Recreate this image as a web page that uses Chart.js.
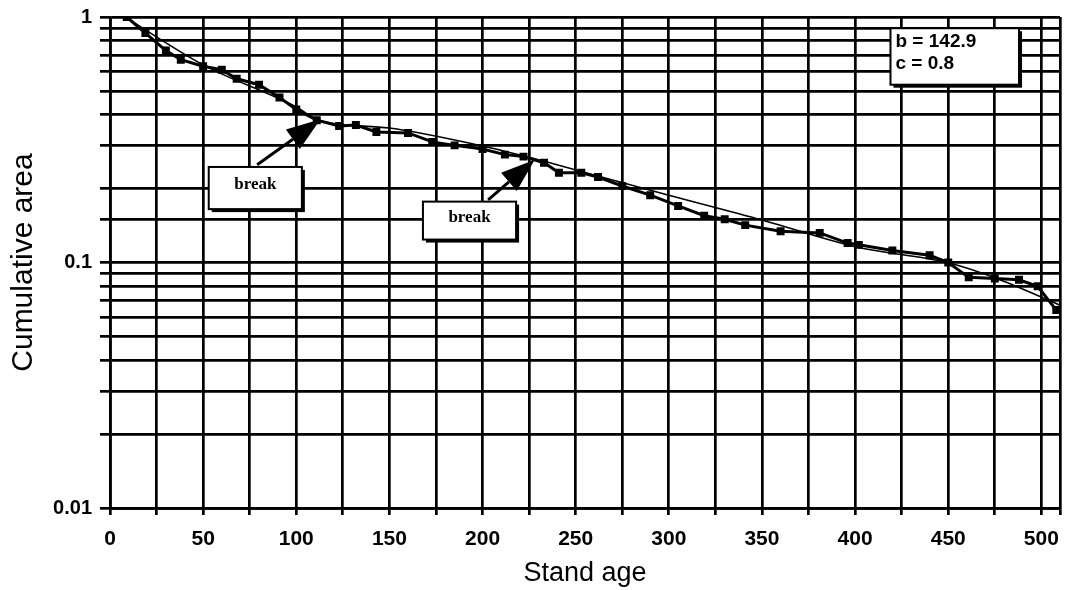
<!DOCTYPE html>
<html>
<head>
<meta charset="utf-8">
<script src="https://cdn.jsdelivr.net/npm/chart.js@4/dist/chart.umd.min.js"></script>
<style>
  body { margin: 0; background: #fff; }
  #wrap { width: 1067px; height: 590px; }
</style>
</head>
<body>
<div id="wrap"><canvas id="chart1" width="1067" height="590"></canvas></div>
<script>
// observed cumulative area by stand age (square markers)
const obsAge  = [9, 19, 30, 38, 50, 60, 68, 80, 91, 100, 111, 123, 132, 143, 160, 173, 185, 200, 212, 222, 233, 241, 253, 262, 275, 290, 305, 319, 330, 341, 360, 381, 396, 402, 420, 440, 450, 461, 475, 488, 498, 508];
const obsArea = [1.0, 0.86, 0.73, 0.67, 0.63, 0.61, 0.56, 0.53, 0.47, 0.42, 0.38, 0.36, 0.363, 0.34, 0.337, 0.31, 0.30, 0.29, 0.275, 0.27, 0.255, 0.232, 0.232, 0.223, 0.205, 0.188, 0.17, 0.155, 0.15, 0.142, 0.134, 0.132, 0.12, 0.118, 0.112, 0.107, 0.10, 0.087, 0.086, 0.085, 0.08, 0.064];

// fitted curve
const fitAge  = [8, 50, 100, 112, 150, 200, 230, 250, 300, 350, 400, 450, 475, 510];
const fitArea = [1.0, 0.638, 0.43, 0.38, 0.353, 0.298, 0.262, 0.238, 0.188, 0.149, 0.116, 0.0997, 0.0866, 0.067];

const xTicks = [0, 25, 50, 75, 100, 125, 150, 175, 200, 225, 250, 275, 300, 325, 350, 375, 400, 425, 450, 475, 500, 510];
const yLabels = [0.01, 0.1, 1];

const breakNotes = [
  { text: 'break', x0: 53, x1: 103, y0: 0.245, y1: 0.165, fromX: 79, fromY: 0.25, tipX: 113, tipY: 0.383 },
  { text: 'break', x0: 168, x1: 218, y0: 0.177, y1: 0.124, fromX: 203, fromY: 0.18, tipX: 228, tipY: 0.262 }
];
const paramLines = ['b = 142.9', 'c = 0.8'];

const toPts = (xs, ys) => xs.map((x, i) => ({ x: x, y: ys[i] }));

const notesPlugin = {
  id: 'notes',
  afterDatasetsDraw(chart) {
    const c = chart.ctx, xs = chart.scales.x, ys = chart.scales.y;
    c.save();
    breakNotes.forEach(n => {
      const fx = xs.getPixelForValue(n.fromX), fy = ys.getPixelForValue(n.fromY);
      const tx = xs.getPixelForValue(n.tipX), ty = ys.getPixelForValue(n.tipY);
      const ang = Math.atan2(ty - fy, tx - fx);
      const hl = 34, hw = 12;
      const bx = tx - hl * Math.cos(ang), by = ty - hl * Math.sin(ang);
      c.strokeStyle = '#000'; c.fillStyle = '#000'; c.lineWidth = 3;
      c.beginPath(); c.moveTo(fx, fy); c.lineTo(bx, by); c.stroke();
      c.beginPath();
      c.moveTo(tx, ty);
      c.lineTo(bx + hw * Math.sin(ang), by - hw * Math.cos(ang));
      c.lineTo(bx - hw * Math.sin(ang), by + hw * Math.cos(ang));
      c.closePath(); c.fill();
      const l = xs.getPixelForValue(n.x0), r = xs.getPixelForValue(n.x1);
      const t = ys.getPixelForValue(n.y0), b = ys.getPixelForValue(n.y1);
      c.fillRect(l + 3, t + 3, r - l, b - t);
      c.fillStyle = '#fff'; c.fillRect(l, t, r - l, b - t);
      c.lineWidth = 2; c.strokeRect(l, t, r - l, b - t);
      c.fillStyle = '#000';
      c.font = 'bold 17px "Liberation Serif"';
      c.textAlign = 'center'; c.textBaseline = 'middle';
      c.fillText(n.text, (l + r) / 2, (t + b) / 2 - 3);
    });
    const l = xs.getPixelForValue(419), r = xs.getPixelForValue(488);
    const t = ys.getPixelForValue(0.9), b = ys.getPixelForValue(0.53);
    c.fillStyle = '#000'; c.fillRect(l + 3, t + 3, r - l, b - t);
    c.fillStyle = '#fff'; c.fillRect(l, t, r - l, b - t);
    c.strokeStyle = '#000'; c.lineWidth = 2; c.strokeRect(l, t, r - l, b - t);
    c.fillStyle = '#000';
    c.font = 'bold 19px "Liberation Sans"';
    c.textAlign = 'left'; c.textBaseline = 'middle';
    paramLines.forEach((s, i) => c.fillText(s, l + 5, t + 14 + i * 22));
    c.restore();
  }
};

const ctx1 = document.getElementById('chart1');

new Chart(ctx1, {
  type: 'line',
  data: {
    datasets: [{
      label: 'observed',
      data: toPts(obsAge, obsArea),
      borderColor: '#000',
      backgroundColor: '#000',
      borderWidth: 3,
      pointStyle: 'rect',
      pointRadius: 3.5,
      tension: 0,
    }, {
      label: 'fit',
      data: toPts(fitAge, fitArea),
      borderColor: '#000',
      borderWidth: 1.6,
      pointRadius: 0,
      cubicInterpolationMode: 'monotone',
    }],
  },
  options: {
    responsive: false,
    animation: false,
    layout: { padding: { top: 17, right: -3, left: 0, bottom: 0 } },
    plugins: { legend: { display: false }, tooltip: { enabled: false } },
    scales: {
      x: {
        type: 'linear',
        min: 0, max: 510,
        grid: { color: '#000', lineWidth: 2.7, tickLength: 7 },
        border: { color: '#000', width: 2.7 },
        afterBuildTicks: s => { s.ticks = xTicks.map(v => ({ value: v })); },
        ticks: {
          autoSkip: false, maxRotation: 0, color: '#000',
          font: { family: 'Liberation Sans', size: 21, weight: 'bold' },
          padding: 12,
          callback: v => (v % 50 === 0 ? String(v) : ''),
        },
        title: {
          display: true, text: 'Stand age', color: '#000',
          font: { family: 'Liberation Sans', size: 27 }, padding: { top: 0, bottom: 0 },
        },
        afterFit: s => { s.height = 82; s.paddingLeft = 0; s.paddingRight = 0; },
      },
      y: {
        type: 'logarithmic',
        min: 0.01, max: 1,
        grid: { color: '#000', lineWidth: 2.7, tickLength: 10 },
        border: { color: '#000', width: 2.7 },
        ticks: {
          autoSkip: false, color: '#000',
          font: { family: 'Liberation Sans', size: 20, weight: 'bold' },
          padding: 8,
          callback: v => (yLabels.some(k => Math.abs(k - v) < 1e-9) ? String(v) : ''),
        },
        title: {
          display: true, text: 'Cumulative area', color: '#000',
          font: { family: 'Liberation Sans', size: 30 }, padding: { top: 6 },
        },
        afterFit: s => { s.width = 110; s.paddingTop = 0; s.paddingBottom = 0; },
      },
    },
  },
  plugins: [notesPlugin],
});
</script>
</body>
</html>
